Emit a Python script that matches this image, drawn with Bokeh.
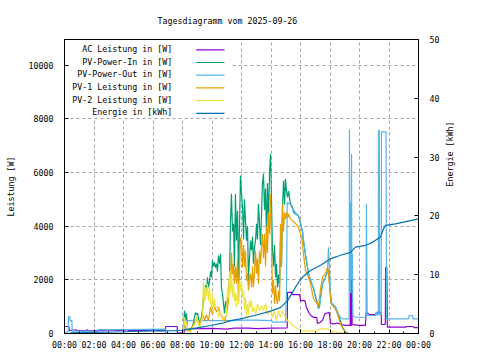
import math
from bokeh.plotting import figure
from bokeh.models import Range1d, LinearAxis, FixedTicker, Label, Arrow, BoxAnnotation
from bokeh.embed import file_html
from bokeh.resources import INLINE

# ---------------- texts / ticks ----------------
TITLE = "Tagesdiagramm vom 2025-09-26"
Y_LABEL = "Leistung [W]"
Y2_LABEL = "Energie [kWh]"

x_ticks = [0, 2, 4, 6, 8, 10, 12, 14, 16, 18, 20, 22, 24]
x_minor_ticks = [1, 3, 5, 7, 9, 11, 13, 15, 17, 19, 21, 23]
x_tick_labels = ["00:00", "02:00", "04:00", "06:00", "08:00", "10:00", "12:00",
                 "14:00", "16:00", "18:00", "20:00", "22:00", "00:00"]
y_ticks = [0, 2000, 4000, 6000, 8000, 10000]
y2_ticks = [0, 10, 20, 30, 40, 50]
Y_MAX = 10950
Y2_MAX = 50

series_names = ["AC Leistung in [W]", "PV-Power-In in [W]", "PV-Power-Out in [W]",
                "PV-1 Leistung in [W]", "PV-2 Leistung in [W]", "Energie in [kWh]"]
series_colors = ["#9400D3", "#009E73", "#56B4E9", "#E69F00", "#F0E442", "#0072B2"]

# ---------------- data: (hour of day, value) ----------------
ac_points = [
    (0.00, 260), (0.30, 260), (0.32, 110), (0.80, 140), (0.85, 110), (1.50, 110),
    (1.55, 150), (1.60, 110), (2.40, 110), (2.45, 140), (2.50, 110), (3.20, 130),
    (3.60, 110), (4.30, 140), (4.35, 110), (5.10, 120), (5.60, 110), (6.20, 140),
    (6.25, 110), (6.85, 110), (6.86, 260), (7.64, 260), (7.65, 20), (8.10, 20),
    (8.15, 150), (9.00, 180), (10.00, 190), (11.00, 160), (11.50, 200), (12.50, 200),
    (13.00, 180), (14.00, 200), (15.10, 210), (15.12, 1535), (15.40, 1535),
    (15.45, 1450), (15.95, 1450), (16.00, 1227), (16.30, 1227), (16.40, 980),
    (16.55, 790), (16.70, 670), (16.90, 600), (17.10, 600), (17.15, 370),
    (17.35, 420), (17.50, 500), (17.65, 730), (17.95, 790), (18.03, 380),
    (18.30, 360), (18.50, 390), (18.80, 330), (19.05, 300), (19.37, 300),
    (19.38, 1600), (19.41, 1600), (19.42, 300), (19.45, 300), (19.46, 2230),
    (19.49, 2230), (19.50, 330), (20.00, 300), (20.40, 300), (20.45, 790),
    (20.70, 700), (21.10, 700), (21.15, 790), (21.47, 790), (21.49, 335),
    (21.75, 335), (21.77, 2465), (21.85, 2465), (21.87, 1350), (21.89, 235),
    (23.15, 235), (23.20, 260), (23.65, 260), (23.70, 220), (24.00, 220),
]

pv_in_points = [
    (0.00, 0), (8.00, 0), (8.07, 300), (8.14, 850), (8.20, 500), (8.27, 750),
    (8.34, 200), (8.45, 100), (8.54, 150), (8.70, 300), (8.88, 780), (8.95, 700),
    (9.02, 760), (9.10, 500), (9.22, 400), (9.36, 900), (9.42, 1400), (9.49, 1200),
    (9.56, 1800), (9.62, 1500), (9.69, 2090), (9.76, 1720), (9.83, 1900),
    (9.90, 2316), (9.97, 2100), (10.03, 2714), (10.10, 2500), (10.17, 2650),
    (10.24, 2450), (10.31, 2600), (10.37, 2300), (10.44, 2900), (10.51, 2600),
    (10.58, 2970), (10.64, 1700), (10.71, 1490), (10.78, 1100), (10.85, 745),
    (10.92, 1200), (10.98, 980), (11.05, 1350), (11.12, 1700), (11.19, 1970),
    (11.25, 4140), (11.32, 5200), (11.39, 3800), (11.46, 4090), (11.52, 2500),
    (11.59, 5200), (11.66, 3460), (11.73, 4570), (11.80, 1970), (11.86, 3830),
    (11.93, 5874), (12.00, 5200), (12.07, 4700), (12.14, 3500), (12.20, 5000),
    (12.27, 4200), (12.34, 3460), (12.41, 4000), (12.47, 1970), (12.54, 2800),
    (12.61, 3460), (12.68, 3090), (12.75, 3600), (12.81, 2600), (12.88, 3200),
    (12.95, 3460), (13.02, 4090), (13.08, 3500), (13.15, 4830), (13.22, 4090),
    (13.29, 3300), (13.36, 4500), (13.42, 5580), (13.49, 5950), (13.56, 4600),
    (13.63, 5400), (13.70, 3500), (13.76, 5600), (13.83, 4200), (13.90, 6000),
    (13.97, 6690), (14.03, 5100), (14.10, 3090), (14.17, 2500), (14.24, 3300),
    (14.31, 2090), (14.37, 2600), (14.44, 1720), (14.51, 2200), (14.58, 1720),
    (14.64, 3460), (14.71, 2500), (14.78, 4700), (14.85, 5690), (14.92, 4800),
    (14.98, 5760), (15.05, 5300), (15.12, 5070), (15.19, 5300), (15.32, 4830),
    (15.46, 4700), (15.53, 4510), (15.66, 4450), (15.86, 4390), (16.00, 4090),
    (16.14, 3770), (16.20, 3460), (16.34, 2900), (16.47, 2465), (16.54, 2230),
    (16.68, 1970), (16.88, 1670), (17.02, 1350), (17.15, 1115), (17.22, 930),
    (17.29, 1000), (17.36, 1350), (17.49, 1850), (17.69, 2090), (17.83, 2280),
    (17.90, 2350), (18.03, 1475), (18.10, 1100), (18.24, 1050), (18.37, 980),
    (18.51, 730), (18.71, 480), (18.85, 235), (19.05, 50), (19.25, 0), (24.00, 0),
]

pv_out_points = [
    (0.00, 50), (0.25, 50), (0.27, 630), (0.36, 630), (0.38, 480), (0.50, 480),
    (0.52, 85), (2.24, 85), (2.26, 137), (6.84, 160), (6.86, 10), (8.05, 10),
    (8.08, 480), (11.50, 480), (12.00, 500), (13.00, 500), (14.05, 480),
    (14.10, 420), (14.98, 420), (15.05, 1500), (15.10, 4880), (15.32, 4800),
    (15.46, 4650), (15.66, 4500), (15.86, 4390), (16.00, 4150), (16.14, 3800),
    (16.20, 3500), (16.34, 2950), (16.47, 2500), (16.54, 2250), (16.68, 2000),
    (16.88, 1700), (17.02, 1400), (17.15, 1150), (17.22, 950), (17.36, 1300),
    (17.49, 1850), (17.69, 2100), (17.83, 2300), (17.90, 3210), (17.97, 2300),
    (18.03, 1475), (18.10, 1150), (18.24, 1050), (18.37, 1000), (18.51, 800),
    (18.71, 600), (18.85, 545), (19.30, 545), (19.32, 7600), (19.34, 1500),
    (19.37, 4880), (19.40, 4880), (19.42, 1500), (19.46, 6690), (19.48, 2000),
    (19.52, 2970), (19.55, 700), (19.66, 605), (20.44, 605), (20.47, 4820),
    (20.52, 670), (21.08, 670), (21.15, 790), (21.22, 670), (21.27, 700),
    (21.29, 7570), (21.34, 7570), (21.36, 700), (21.47, 700), (21.49, 7510),
    (21.80, 7510), (21.83, 545), (23.32, 545), (23.36, 670), (23.59, 670),
    (23.63, 545), (24.00, 545),
]

pv1_points = [
    (0.00, 0), (8.00, 0), (8.07, 100), (8.14, 420), (8.20, 200), (8.34, 100),
    (8.54, 80), (8.88, 500), (9.02, 480), (9.15, 300), (9.36, 730), (9.49, 480),
    (9.62, 700), (9.76, 480), (9.90, 980), (10.03, 730), (10.17, 1000),
    (10.31, 800), (10.44, 980), (10.58, 730), (10.71, 600), (10.85, 450),
    (10.98, 700), (11.12, 1200), (11.19, 2220), (11.25, 1800), (11.32, 3020),
    (11.39, 2200), (11.46, 2600), (11.52, 1850), (11.59, 2500), (11.66, 1850),
    (11.73, 2800), (11.80, 1200), (11.86, 2300), (11.93, 3580), (12.00, 3460),
    (12.07, 2465), (12.14, 3300), (12.20, 2465), (12.27, 3090), (12.34, 1970),
    (12.41, 2230), (12.47, 1600), (12.54, 2000), (12.61, 2230), (12.68, 1720),
    (12.75, 2500), (12.81, 1720), (12.88, 2230), (12.95, 3090), (13.02, 2230),
    (13.08, 2800), (13.15, 1850), (13.22, 3090), (13.29, 2600), (13.36, 3300),
    (13.42, 3710), (13.49, 2800), (13.56, 3710), (13.63, 2500), (13.70, 4000),
    (13.76, 3000), (13.83, 4500), (13.90, 3700), (13.97, 5190), (14.03, 3500),
    (14.10, 1475), (14.17, 2000), (14.24, 1100), (14.31, 1800), (14.37, 1300),
    (14.44, 1100), (14.51, 1600), (14.58, 1200), (14.64, 4080), (14.71, 2500),
    (14.78, 4820), (14.85, 3800), (14.92, 4510), (14.98, 4260), (15.05, 4500),
    (15.12, 4300), (15.19, 4450), (15.32, 4260), (15.46, 4200), (15.66, 4100),
    (15.86, 3950), (16.00, 3710), (16.10, 3500), (16.20, 2960), (16.34, 2340),
    (16.47, 2200), (16.54, 2090), (16.68, 1850), (16.88, 1290), (17.02, 1200),
    (17.15, 1100), (17.22, 1000), (17.36, 1670), (17.49, 2090), (17.69, 2230),
    (17.83, 2465), (17.90, 2230), (18.03, 1350), (18.10, 1100), (18.24, 980),
    (18.37, 900), (18.51, 730), (18.71, 360), (18.85, 200), (19.05, 30),
    (19.25, 0), (24.00, 0),
]

pv2_points = [
    (0.00, 0), (8.00, 0), (8.07, 150), (8.14, 600), (8.20, 300), (8.27, 450),
    (8.40, 100), (8.54, 50), (8.88, 400), (8.95, 640), (9.02, 500), (9.15, 200),
    (9.36, 600), (9.42, 1970), (9.49, 1200), (9.56, 1720), (9.62, 1400),
    (9.69, 1850), (9.76, 1200), (9.83, 1720), (9.90, 1160), (9.97, 980),
    (10.03, 1500), (10.10, 730), (10.17, 1300), (10.24, 980), (10.37, 1000),
    (10.44, 605), (10.58, 800), (10.71, 500), (10.85, 600), (10.98, 700),
    (11.05, 1720), (11.12, 1300), (11.19, 2340), (11.25, 1500), (11.32, 2230),
    (11.39, 1350), (11.46, 1850), (11.52, 1200), (11.59, 1490), (11.66, 980),
    (11.73, 1600), (11.80, 1100), (11.86, 1970), (11.93, 1600), (12.00, 1970),
    (12.07, 1350), (12.14, 1600), (12.20, 900), (12.27, 1350), (12.34, 605),
    (12.41, 1100), (12.47, 700), (12.54, 1230), (12.61, 980), (12.68, 1230),
    (12.75, 800), (12.88, 980), (12.95, 700), (13.02, 855), (13.08, 1115),
    (13.22, 855), (13.36, 1040), (13.49, 855), (13.63, 1115), (13.76, 700),
    (13.97, 855), (14.10, 605), (14.24, 855), (14.37, 480), (14.51, 855),
    (14.64, 605), (14.78, 855), (14.98, 600), (15.12, 480), (15.32, 400),
    (15.46, 300), (15.66, 235), (15.86, 150), (16.00, 110), (16.50, 85),
    (17.15, 110), (17.36, 175), (17.83, 175), (18.03, 80), (18.51, 50),
    (19.05, 0), (24.00, 0),
]

energy_points = [
    (0.40, 0.10), (2.00, 0.20), (4.00, 0.30), (6.00, 0.45), (7.50, 0.50),
    (8.00, 0.55), (8.88, 0.90), (9.90, 1.36), (10.71, 1.75), (11.25, 2.20),
    (11.93, 2.50), (12.95, 3.10), (13.97, 3.80), (14.64, 4.40), (15.12, 5.60),
    (15.46, 7.00), (15.80, 8.45), (16.14, 9.60), (16.68, 10.70), (17.36, 11.60),
    (18.03, 12.70), (18.71, 13.30), (19.39, 13.80), (19.73, 14.70), (20.41, 15.00),
    (20.88, 15.50), (21.42, 16.40), (21.63, 17.80), (21.76, 18.40), (22.44, 18.65),
    (23.46, 19.20), (24.00, 19.50),
]

all_series = [ac_points, pv_in_points, pv_out_points, pv1_points, pv2_points, energy_points]

# ---------------- styling ----------------
FONT = "DejaVu Sans Mono"
FS = "8.3px"
GRID_COLOR = "#a0a0a0"
LW = 1.2

p = figure(frame_width=354, frame_height=294,
           min_border_left=64, min_border_right=62, min_border_top=39, min_border_bottom=27,
           x_range=Range1d(0, 24), y_range=Range1d(0, Y_MAX),
           output_backend="svg", toolbar_location=None)
p.extra_y_ranges = {"energy": Range1d(0, Y2_MAX)}
p.background_fill_color = "white"
p.border_fill_color = "white"
p.outline_line_color = "black"
p.outline_line_width = 1
p.outline_line_alpha = 1

p.title.text = TITLE
p.title.text_font = FONT
p.title.text_font_size = FS
p.title.text_font_style = "normal"
p.title.text_color = "black"
p.title.align = "left"
p.title.offset = 93
p.title.standoff = 27

xa = p.xaxis[0]
xa.ticker = FixedTicker(ticks=x_ticks, minor_ticks=x_minor_ticks)
xa.major_label_overrides = {t: l for t, l in zip(x_ticks, x_tick_labels)}
xa.major_label_standoff = 6

ya = p.yaxis[0]
ya.ticker = FixedTicker(ticks=y_ticks)
ya.major_label_standoff = 11
ya.axis_label = Y_LABEL
ya.axis_label_standoff = 10

ra = LinearAxis(y_range_name="energy", ticker=FixedTicker(ticks=y2_ticks))
ra.major_label_standoff = 11
ra.axis_label = Y2_LABEL
ra.axis_label_standoff = 8
try:
    ra.axis_label_orientation = math.pi / 2
except Exception:
    pass
p.add_layout(ra, "right")

for ax in (xa, ya, ra):
    ax.axis_line_color = "black"
    ax.axis_line_width = 1
    ax.major_tick_line_color = "black"
    ax.minor_tick_line_color = "black"
    ax.major_tick_in = 4
    ax.major_tick_out = 0
    ax.minor_tick_in = 2
    ax.minor_tick_out = 0
    ax.major_label_text_font = FONT
    ax.major_label_text_font_size = FS
    ax.major_label_text_color = "black"
    ax.axis_label_text_font = FONT
    ax.axis_label_text_font_size = FS
    ax.axis_label_text_font_style = "normal"
    ax.axis_label_text_color = "black"

p.xgrid.ticker = FixedTicker(ticks=x_ticks)
p.ygrid.ticker = FixedTicker(ticks=y_ticks)
for g in (p.xgrid[0], p.ygrid[0]):
    g.grid_line_color = GRID_COLOR
    g.grid_line_dash = "3 3"
    g.grid_line_width = 1

# ---------------- series ----------------
for i, (pts, col) in enumerate(zip(all_series, series_colors)):
    xs = [a for a, _ in pts]
    ys = [b for _, b in pts]
    if i == 5:
        p.line(xs, ys, line_color=col, line_width=LW, y_range_name="energy")
    else:
        p.line(xs, ys, line_color=col, line_width=LW)

# ---------------- legend (gnuplot style, opaque key: text right-aligned, sample on the right) ----------------
p.add_layout(BoxAnnotation(left=5, right=166, bottom=216, top=293,
                           left_units="screen", right_units="screen",
                           bottom_units="screen", top_units="screen",
                           fill_color="white", fill_alpha=1.0, line_alpha=0.0))
LEG_TEXT_X = 107.7
LEG_LINE_X0 = 131.7
LEG_LINE_X1 = 160.0
LEG_TOP_Y = 283.7
LEG_STEP = 12.7
for i, (name, col) in enumerate(zip(series_names, series_colors)):
    yy = LEG_TOP_Y - LEG_STEP * i
    p.add_layout(Label(x=LEG_TEXT_X, y=yy + 1, x_units="screen", y_units="screen",
                       text=name, text_align="right", text_baseline="middle",
                       text_font=FONT, text_font_size=FS, text_color="black"))
    p.add_layout(Arrow(x_start=LEG_LINE_X0, y_start=yy, x_end=LEG_LINE_X1, y_end=yy,
                       start_units="screen", end_units="screen", end=None,
                       line_color=col, line_width=LW))

open("out.html", "w").write(file_html(p, INLINE))
